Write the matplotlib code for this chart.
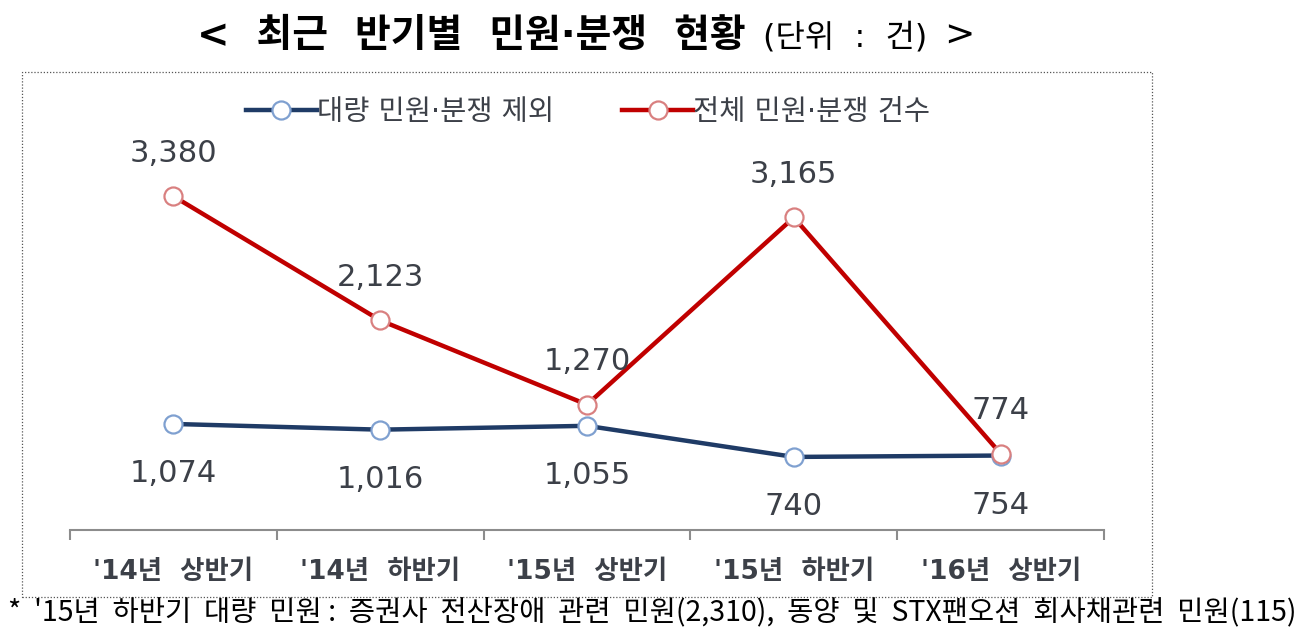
import matplotlib
matplotlib.use("Agg")
from matplotlib import pyplot as plt
from matplotlib.patches import Rectangle

plt.rcParams['font.family'] = ['Noto Sans CJK KR', 'DejaVu Sans']
MIXED = ['DejaVu Sans', 'Noto Sans CJK KR']  # latin from DejaVu, hangul falls through

#-------------------------------------------------------
# Data
#-------------------------------------------------------

periods = ["'14년  상반기", "'14년  하반기", "'15년  상반기", "'15년  하반기", "'16년  상반기"]
excl_bulk = [1074, 1016, 1055, 740, 754]
total = [3380, 2123, 1270, 3165, 774]
series_names = ["대량 민원·분쟁 제외", "전체 민원·분쟁 건수"]

NAVY = "#1F3B66"
NAVY_EDGE = "#7FA0D0"
RED = "#C00000"
RED_EDGE = "#D98080"
TXT = "#3C4048"

#-------------------------------------------------------
# Figure
#-------------------------------------------------------

fig = plt.figure(figsize=(12.99, 6.4), dpi=100)
W, H = 1299, 640

# dotted frame round the chart
fig.patches.append(Rectangle((22 / W, 1 - 597 / H), 1130 / W, 525 / H,
                             transform=fig.transFigure, fill=False,
                             linestyle=(0, (1, 1.5)), linewidth=0.9,
                             edgecolor="#555555"))

ax = fig.add_axes([70 / W, 1 - 530 / H, 1034 / W, 395 / H])
x = list(range(len(periods)))

ax.plot(x, excl_bulk, "-o", color=NAVY, lw=3.2, ms=13, mfc="white",
        mec=NAVY_EDGE, mew=1.6, label=series_names[0], zorder=3)
ax.plot(x, total, "-o", color=RED, lw=3.2, ms=13, mfc="white",
        mec=RED_EDGE, mew=1.6, label=series_names[1], zorder=3)

for i in x:
    ax.annotate(f"{total[i]:,}", (i, total[i]), xytext=(0, 31),
                textcoords="offset points", ha="center", va="center",
                fontsize=22, color=TXT, family="DejaVu Sans")
    ax.annotate(f"{excl_bulk[i]:,}", (i, excl_bulk[i]), xytext=(0, -36),
                textcoords="offset points", ha="center", va="center",
                fontsize=22, color=TXT, family="DejaVu Sans")

ax.set_xlim(-0.5, len(periods) - 0.5)
ax.set_ylim(0, 4000)
for s in ["top", "left", "right"]:
    ax.spines[s].set_visible(False)
ax.spines["bottom"].set_color("#8C8C8C")
ax.spines["bottom"].set_linewidth(1.5)
ax.set_yticks([])
ax.set_xticks(x)
ax.set_xticklabels(periods, fontsize=19, fontweight="bold", color=TXT,
                   family=MIXED)
ax.tick_params(axis="x", which="major", length=0, pad=21)
ax.set_xticks([i - 0.5 for i in range(len(periods) + 1)], minor=True)
ax.tick_params(axis="x", which="minor", length=7, width=1.5, color="#8C8C8C")

leg = ax.legend(loc="center", bbox_to_anchor=(588 / W, 1 - 112 / H),
                bbox_transform=fig.transFigure, ncol=2, frameon=False,
                prop={"family": MIXED, "size": 20.5}, handlelength=2.5,
                columnspacing=2.4, handletextpad=0.0, labelcolor=TXT)

# title in three pieces
fig.text(197 / W, 1 - 36 / H, "<  최근  반기별  민원·분쟁  현황", ha="left",
         va="center", fontsize=28, fontweight="bold", color="black",
         family=MIXED)
fig.text(763 / W, 1 - 38 / H, "(단위  :  건)", ha="left", va="center",
         fontsize=23, color="black", family=MIXED)
fig.text(975 / W, 1 - 36 / H, ">", ha="right", va="center",
         fontsize=26, color="black", family=MIXED)

fig.text(8 / W, 1 - 612 / H,
         "*  '15년  하반기  대량  민원 :  증권사  전산장애  관련  민원(2,310),  동양  및  STX팬오션  회사채관련  민원(115)",
         ha="left", va="center", fontsize=20.5, color="black")

fig.savefig("out.png", dpi=100)
